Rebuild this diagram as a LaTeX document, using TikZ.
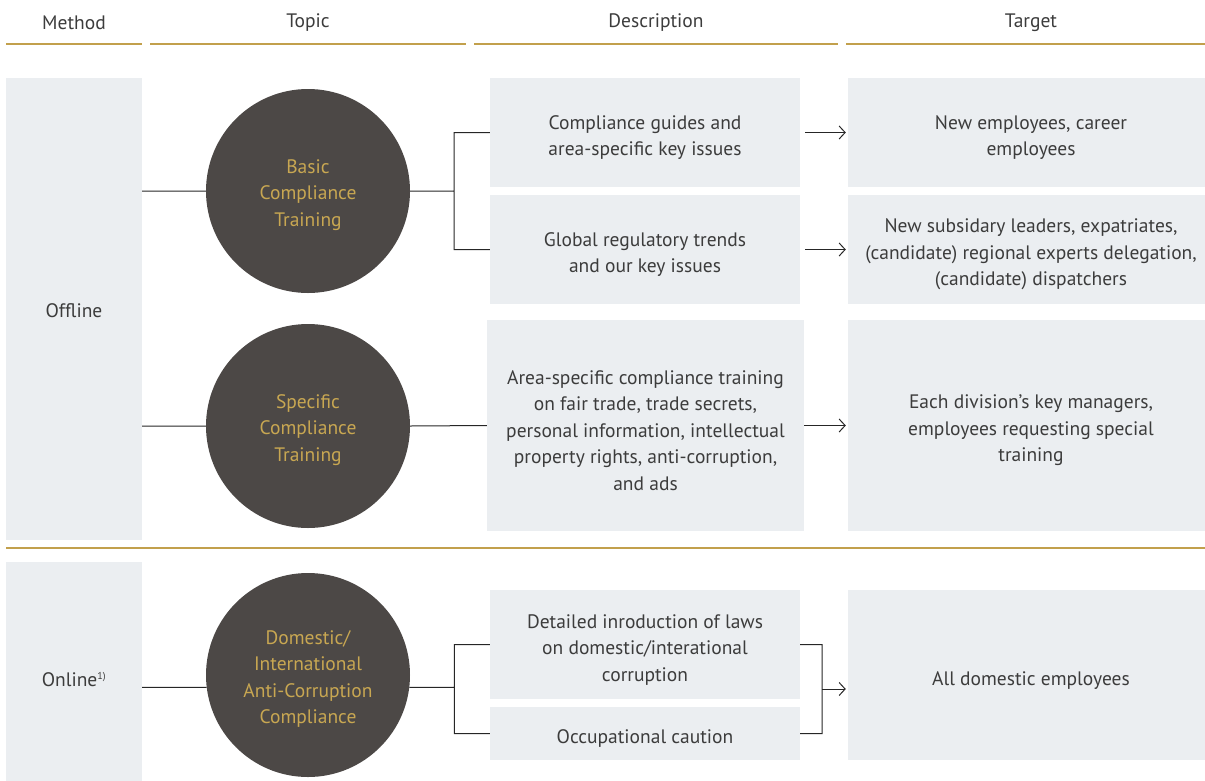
\documentclass[tikz,border=0pt]{standalone}
\usepackage{fontspec}
\setmainfont{PT Sans}
\usetikzlibrary{arrows.meta}
\definecolor{boxgray}{HTML}{EBEEF1}
\definecolor{circgray}{HTML}{4C4846}
\definecolor{goldtext}{HTML}{C8A752}
\definecolor{goldline}{HTML}{C2A04C}
\definecolor{textgray}{HTML}{3C3C3C}
\newcommand{\lowtext}[1][24pt]{\rule{0pt}{#1}}
\begin{document}
\begin{tikzpicture}[x=1pt, y=-1pt, font=\fontsize{19.5}{26.5}\selectfont, text=textgray]
        \tikzstyle{head_label} = [anchor = center]
        \tikzstyle{head_line} = [draw = goldline, line width = 1.5pt]
        \tikzstyle{method_box} = [fill = boxgray, minimum width = 136pt, align = center]
        \tikzstyle{topic_node} = [shape = circle, fill = circgray, minimum size = 204pt, text = goldtext, align = center]
        \tikzstyle{desc_box} = [fill = boxgray, minimum width = 310pt, align = center]
        \tikzstyle{target_box} = [fill = boxgray, minimum width = 366pt, align = center]
        \tikzstyle{link} = [draw = black!85, line width = 1pt]
        \tikzstyle{arrow_link} = [link, -{Straight Barb[length=6pt, width=13pt]}, shorten >= 2pt]

        \useasboundingbox (0, 0) rectangle (1205, 780);

        % header
        \node[head_label] at (74,  23) (h_method) {Method};
        \node[head_label] at (308, 23) (h_topic) {Topic};
        \node[head_label] at (656, 23) (h_desc) {Description};
        \node[head_label] at (1031, 23) (h_target) {Target};
        \draw[head_line] (6, 44) -- (142, 44);
        \draw[head_line] (150, 44) -- (466, 44);
        \draw[head_line] (474, 44) -- (838, 44);
        \draw[head_line] (846, 44) -- (1205, 44);
        \draw[head_line] (6, 548) -- (1205, 548);

        % method
        \node[method_box, minimum height = 462pt] at (74, 309) (m_off) {\lowtext[18pt]Offline};
        \node[method_box, minimum height = 230pt] at (74, 677) (m_on) {\lowtext[20pt]Online\textsuperscript{\fontsize{10}{12}\selectfont 1)}};

        % topics
        \node[topic_node] at (308, 191) (c1) {\lowtext[22pt]Basic\\Compliance\\Training};
        \node[topic_node] at (308, 426) (c2) {\lowtext[22pt]Specific\\Compliance\\Training};
        \node[topic_node] at (308, 675) (c3) {\lowtext[22pt]Domestic/\\International\\Anti-Corruption\\Compliance};

        % descriptions
        \node[desc_box, minimum height = 109pt] at (645, 132.5) (d1) {\lowtext Compliance guides and\\area-specific key issues};
        \node[desc_box, minimum height = 109pt] at (645, 249.5) (d2) {\lowtext Global regulatory trends\\and our key issues};
        \node[desc_box, minimum width = 317pt, minimum height = 211pt] at (645.5, 425.5) (d3) {\lowtext Area-specific compliance training\\on fair trade, trade secrets,\\personal information, intellectual\\property rights, anti-corruption,\\and ads};
        \node[desc_box, minimum height = 109pt] at (645, 644.5) (d4) {\lowtext Detailed inroduction of laws\\on domestic/interational\\corruption};
        \node[desc_box, minimum height = 53pt] at (645, 733.5) (d5) {\lowtext Occupational caution};

        % targets
        \node[target_box, minimum height = 109pt] at (1031, 132.5) (t1) {\lowtext New employees, career\\employees};
        \node[target_box, minimum height = 109pt] at (1031, 249.5) (t2) {\lowtext New subsidary leaders, expatriates,\\(candidate) regional experts delegation,\\(candidate) dispatchers};
        \node[target_box, minimum height = 211pt] at (1031, 425.5) (t3) {\lowtext Each division’s key managers,\\employees requesting special\\training};
        \node[target_box, minimum height = 170pt] at (1031, 675) (t4) {\lowtext All domestic employees};

        \coordinate (b1) at (454, 191);
        \coordinate (b3) at ([xshift=45pt]c3.353);
        \coordinate (b4) at (822, 689);

        \draw[link]
          (m_off.east |- c1) -- (c1.west)
          (m_off.east |- c2) -- (c2.west)
          (m_on.east |- c3.187) -- (c3.187)
          (c1.east) -- (b1)
          (d1.west) -| (b1) |- (d2.west)
          (c2.east) -- (d3.west)
          (c3.353) -- (b3)
          (d4.west) -| (b3) |- (d5.west)
          (d4.east) -| (b4) |- (d5.east)
        ;

        \draw[arrow_link] ([xshift=5pt]d1.east) -- (t1.west);
        \draw[arrow_link] ([xshift=5pt]d2.east) -- (t2.west);
        \draw[arrow_link] (d3.east) -- (t3.west |- d3.east);
        \draw[arrow_link] (b4) -- (b4 -| t4.west);
      \end{tikzpicture}
\end{document}
